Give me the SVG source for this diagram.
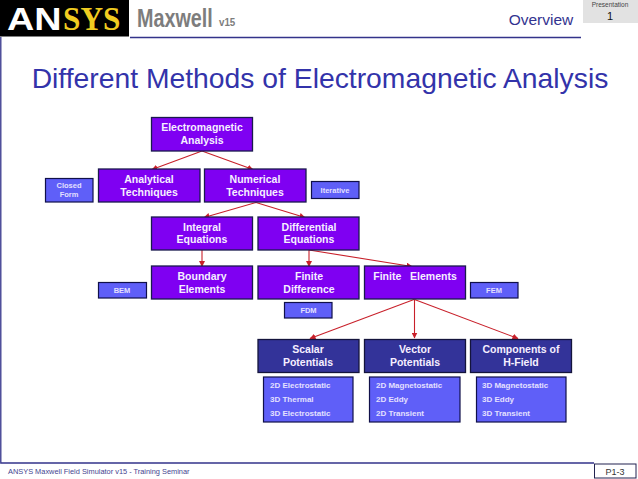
<svg xmlns="http://www.w3.org/2000/svg" width="638" height="479" viewBox="0 0 638 479">
<style>
text{font-family:"Liberation Sans",Arial,sans-serif;text-anchor:middle}
.p{fill:#7f00f2;stroke:#1a1a4d;stroke-width:1.3}
.d{fill:#333399;stroke:#14143c;stroke-width:1.3}
.s{fill:#5f5ff8;stroke:#10104a;stroke-width:1.2}
.m{fill:#f6efff;font-size:10.500px;font-weight:bold}
.t{fill:#e4e0ff;font-size:7.500px;font-weight:bold}
.l{fill:#e4e0ff;font-size:8px;font-weight:bold;text-anchor:start}
.c{fill:none;stroke:#c8202a;stroke-width:1.1;marker-end:url(#a)}
.r{fill:none;stroke:#33338a;stroke-width:1.3}
</style>
<defs><marker id="a" markerUnits="userSpaceOnUse" markerWidth="7" markerHeight="6" refX="5.500" refY="3" orient="auto"><path d="M0 0L6 3L0 6z" fill="#c8202a"/></marker></defs>
<rect width="638" height="479" fill="#fff"/>
<g id="header">
<path class="r" d="M130 37.500H581M0.800 37V463H594"/>
<rect x="0" y="0" width="129" height="36.500" fill="#000"/>
<text transform="translate(7 30) scale(1.18 1)" style="text-anchor:start;font-size:32px;font-weight:bold" fill="#fff">AN</text>
<text transform="translate(63 30) scale(.92 1)" style="text-anchor:start;font-family:'Liberation Serif',serif;font-size:34px;font-weight:bold" fill="#f0cc20">SYS</text>
<text transform="translate(137 27) scale(.76 1)" style="text-anchor:start;font-size:26px;font-weight:bold" fill="#7d7d7d">Maxwell</text>
<text transform="translate(219 26) scale(.85 1)" style="text-anchor:start;font-size:11.500px;font-weight:bold" fill="#7d7d7d">v15</text>
<text x="541" y="25" style="font-size:15.500px" fill="#33338f">Overview</text>
<rect x="583" y="0" width="55" height="23" fill="#e2e2e2"/>
<text x="610" y="6.500" style="font-size:6.500px" fill="#444">Presentation</text>
<text x="610" y="20" style="font-size:11px" fill="#111">1</text>
</g>
<text id="title" x="320" y="88" style="font-size:28.300px" fill="#3333aa">Different Methods of Electromagnetic Analysis</text>
<g id="connectors">
<path class="c" d="M202 151L152 169.500"/>
<path class="c" d="M202 151L253 169.500"/>
<path class="c" d="M256 202.500L204 217.500"/>
<path class="c" d="M256 202.500L305 217.500"/>
<path class="c" d="M202 250V266.500"/>
<path class="c" d="M309 250V266.500"/>
<path class="c" d="M309 250L412 266.500"/>
<path class="c" d="M414 299.500L310 338.500"/>
<path class="c" d="M414.500 299.500V338"/>
<path class="c" d="M414.500 299.500L518 338.500"/>
</g>
<g id="n1"><rect class="p" x="151.500" y="117.500" width="101" height="33.500"/><text class="m" x="202" y="131">Electromagnetic</text><text class="m" x="202" y="144">Analysis</text></g>
<g id="n2"><rect class="p" x="98.500" y="169" width="101.500" height="33"/><text class="m" x="149" y="183">Analytical</text><text class="m" x="149" y="196">Techniques</text></g>
<g id="n3"><rect class="p" x="204.500" y="169" width="101.500" height="33"/><text class="m" x="255" y="183">Numerical</text><text class="m" x="255" y="196">Techniques</text></g>
<g id="n4"><rect class="s" x="45.500" y="178.500" width="47.500" height="23.500"/><text class="t" x="69" y="188">Closed</text><text class="t" x="69" y="197">Form</text></g>
<g id="n5"><rect class="s" x="311.500" y="181.500" width="47.500" height="17"/><text class="t" x="335" y="192.500">Iterative</text></g>
<g id="n6"><rect class="p" x="151.500" y="217" width="101" height="33"/><text class="m" x="202" y="231">Integral</text><text class="m" x="202" y="243">Equations</text></g>
<g id="n7"><rect class="p" x="258" y="217" width="101" height="33"/><text class="m" x="309" y="231">Differential</text><text class="m" x="309" y="243">Equations</text></g>
<g id="n8"><rect class="p" x="151.500" y="266" width="101" height="33"/><text class="m" x="202" y="280">Boundary</text><text class="m" x="202" y="293">Elements</text></g>
<g id="n9"><rect class="p" x="258" y="266" width="101" height="33"/><text class="m" x="309" y="280">Finite</text><text class="m" x="309" y="293">Difference</text></g>
<g id="n10"><rect class="p" x="364.500" y="266" width="101" height="33"/><text class="m" x="415" y="280" xml:space="preserve">Finite   Elements</text></g>
<g id="n11"><rect class="s" x="98.500" y="282.500" width="48" height="15.500"/><text class="t" x="122" y="292.500">BEM</text></g>
<g id="n12"><rect class="s" x="284.500" y="302.500" width="47.500" height="15.500"/><text class="t" x="308.500" y="313">FDM</text></g>
<g id="n13"><rect class="s" x="470.500" y="282.500" width="47.500" height="15.500"/><text class="t" x="494" y="292.500">FEM</text></g>
<g id="n14"><rect class="d" x="258" y="339.500" width="101" height="33"/><text class="m" x="308" y="353">Scalar</text><text class="m" x="308" y="366">Potentials</text></g>
<g id="n15"><rect class="d" x="364.500" y="339.500" width="101" height="33"/><text class="m" x="415" y="353">Vector</text><text class="m" x="415" y="366">Potentials</text></g>
<g id="n16"><rect class="d" x="470.500" y="339.500" width="101" height="33"/><text class="m" x="521" y="353">Components of</text><text class="m" x="521" y="366">H-Field</text></g>
<g id="n17"><rect class="s" x="263.500" y="377" width="89.500" height="45"/><text class="l" x="270" y="388">2D Electrostatic</text><text class="l" x="270" y="402">3D Thermal</text><text class="l" x="270" y="416">3D Electrostatic</text></g>
<g id="n18"><rect class="s" x="369.500" y="377" width="90.500" height="45"/><text class="l" x="376" y="388">2D Magnetostatic</text><text class="l" x="376" y="402">2D Eddy</text><text class="l" x="376" y="416">2D Transient</text></g>
<g id="n19"><rect class="s" x="476.500" y="377" width="89.500" height="45"/><text class="l" x="482" y="388">3D Magnetostatic</text><text class="l" x="482" y="402">3D Eddy</text><text class="l" x="482" y="416">3D Transient</text></g>
<g id="footer">
<text x="8" y="474" style="text-anchor:start;font-size:7.400px" fill="#44448f">ANSYS Maxwell Field Simulator v15 - Training Seminar</text>
<rect x="594.500" y="464" width="41.500" height="14" fill="#fff" stroke="#222250" stroke-width="1"/>
<text x="615" y="474.500" style="font-size:9px" fill="#333">P1-3</text>
</g>
</svg>
